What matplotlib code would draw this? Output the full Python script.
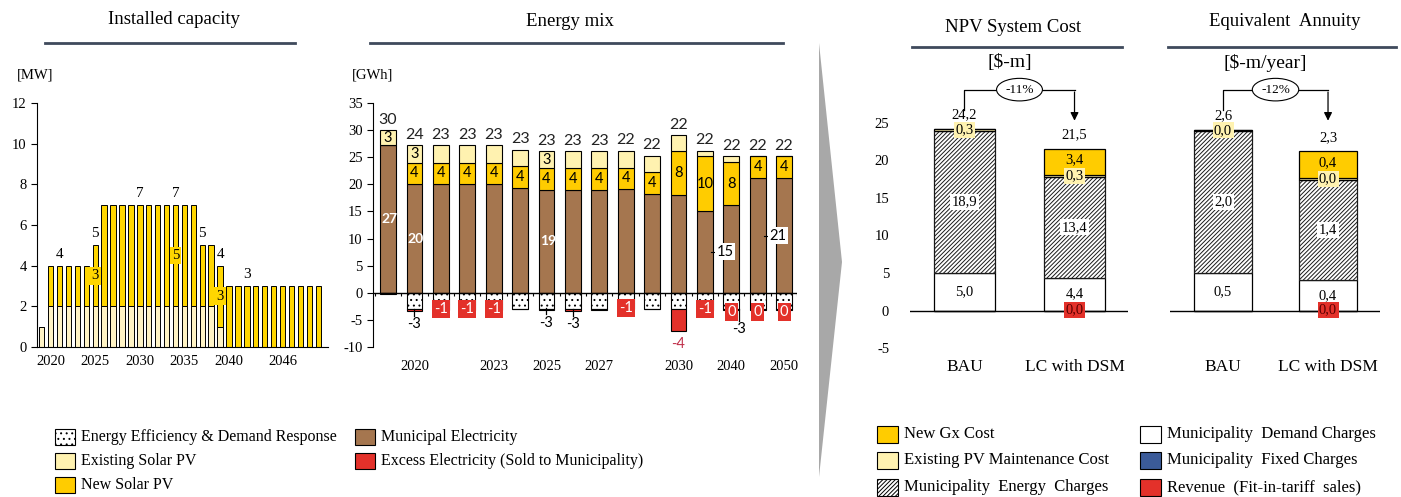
import numpy as np
import matplotlib
matplotlib.use('Agg')
import matplotlib.pyplot as plt
from matplotlib.patches import Rectangle, Polygon
from matplotlib.lines import Line2D

plt.rcParams['font.family'] = ['Liberation Serif', 'DejaVu Serif']
plt.rcParams['hatch.linewidth'] = 0.7
plt.rcParams['axes.unicode_minus'] = False

# ---------------- data: installed capacity [MW] ----------------
cap_years = list(range(2019, 2051))
cap_existing = [1] + [2] * 5 + [2] + [2] * 11 + [2, 2] + [1] + [0] * 11
cap_new = [0] + [2] * 5 + [3] + [5] * 11 + [3, 3] + [3] + [3] * 11
cap_tick_labels = ['2020', '2025', '2030', '2035', '2040', '2046']
cap_total_label_years = [2021, 2025, 2030, 2034, 2037, 2039, 2042]
cap_new_label_years = [2025, 2034, 2039]

# ---------------- data: energy mix [GWh] ----------------
mix_cats = ['2019', '2020', '2021', '2022', '2023', '2024', '2025', '2026',
            '2027', '2028', '2029', '2030', '2035', '2040', '2045', '2050']
mix_tick_labels = ['2020', '2023', '2025', '2027', '2030', '2040', '2050']
mix_municipal = [27.2, 20.0, 20.0, 20.0, 20.0, 19.3, 19.0, 19.0, 19.0, 19.1, 18.3, 18.1, 15.1, 16.1, 21.1, 21.1]
mix_new = [0.0, 4.0, 4.0, 4.0, 4.0, 4.0, 4.0, 4.0, 4.0, 4.0, 3.9, 8.0, 10.1, 8.1, 4.1, 4.1]
mix_existing = [2.8, 3.2, 3.2, 3.2, 3.2, 3.1, 3.1, 3.1, 3.1, 3.1, 3.1, 3.0, 1.0, 1.0, 0.0, 0.0]
mix_ee = [0.0, -2.9, -2.1, -2.1, -2.1, -2.9, -2.9, -3.0, -3.0, -1.9, -2.9, -3.0, -2.1, -3.0, -3.0, -3.0]
mix_excess = [-0.3, -0.4, -1.0, -1.0, -1.0, 0.0, -0.2, -0.3, -0.2, -1.0, 0.0, -4.1, -1.0, -0.2, -0.2, -0.2]
mix_total_labels = ['30', '24', '23', '23', '23', '23', '23', '23', '23', '22', '22', '22', '22', '22', '22', '22']
mix_new_labels = ['', '4', '4', '4', '4', '4', '4', '4', '4', '4', '4', '8', '10', '8', '4', '4']
mix_existing_labels = ['3', '3', '', '', '', '', '3', '', '', '', '', '', '', '', '', '']
mix_municipal_in_labels = ['27', '20', '', '', '', '', '19', '', '', '', '', '', '', '', '', '']
mix_municipal_out_labels = ['', '', '', '', '', '', '', '', '', '', '', '', '15', '', '21', '']
mix_ee_labels = ['', '-3', '', '', '', '', '-3', '-3', '', '', '', '', '', '-3', '', '']
mix_excess_labels = ['', '', '-1', '-1', '-1', '', '', '', '', '-1', '', '-4', '-1', '0', '0', '0']
mix_excess_boxed = [False, False, True, True, True, False, False, False, False, True, False, False, True, True, True, True]

# ---------------- data: costs ----------------
cost_cats = ['BAU', 'LC with DSM']
npv_demand = [5.0, 4.4]
npv_energy = [18.9, 13.4]
npv_pv = [0.3, 0.3]
npv_newgx = [0.0, 3.4]
npv_revenue = [0.0, -0.03]
npv_change = '-11%'

ann_demand = [0.54, 0.44]
ann_energy = [2.04, 1.44]
ann_pv = [0.02, 0.03]
ann_newgx = [0.0, 0.38]
ann_revenue = [0.0, -0.01]
ann_change = '-12%'

# ---------------- style ----------------
BROWN = '#A5764F'
LIGHT = '#FFF2B0'
GOLD = '#FFCC00'
RED = '#E3312A'
BLUE = '#3B5B99'
CAP_LIGHT = '#FFF3C4'
CAP_GOLD = '#FFD600'
LINEC = '#3F4A5C'
SANS = ['Lato', 'DejaVu Sans']

W, H = 1401, 497
fig = plt.figure(figsize=(W / 100, H / 100), dpi=100)


def fbox(x0, y0, x1, y1):
    return [x0 / W, 1 - y1 / H, (x1 - x0) / W, (y1 - y0) / H]


def fx(px):
    return px / W


def fy(py):
    return 1 - py / H


# ================= Installed capacity =================
ax = fig.add_axes(fbox(37, 103, 328, 347))
xc = np.arange(len(cap_years))
ax.bar(xc, cap_existing, 0.6, color=CAP_LIGHT, edgecolor='black', lw=0.7)
ax.bar(xc, cap_new, 0.6, bottom=cap_existing, color=CAP_GOLD, edgecolor='black', lw=0.7)
ax.set_xlim(-0.53, 32.1)
ax.set_ylim(0, 12)
ax.set_yticks(range(0, 13, 2))
ax.set_xticks([cap_years.index(int(t)) for t in cap_tick_labels])
ax.set_xticklabels(cap_tick_labels)
for s in ['top', 'right']:
    ax.spines[s].set_visible(False)
ax.tick_params(axis='x', length=0, pad=6, labelsize=10.5)
ax.tick_params(axis='y', length=4, labelsize=10.5, direction='out')
for yr in cap_total_label_years:
    i = cap_years.index(yr)
    tot = cap_existing[i] + cap_new[i]
    ax.text(i, tot + 0.25, str(tot), ha='center', va='bottom', fontsize=11)
for yr in cap_new_label_years:
    i = cap_years.index(yr)
    ax.text(i, cap_existing[i] + cap_new[i] / 2, str(cap_new[i]), ha='center', va='center',
            fontsize=10.5, bbox=dict(boxstyle='square,pad=0.15', fc=CAP_GOLD, ec='none'))
fig.text(fx(35), fy(75), '[MW]', ha='center', va='center', fontsize=10.5)

# ================= Energy mix =================
ax = fig.add_axes(fbox(373, 103, 797, 347))
xm = np.arange(len(mix_cats))
bw = 0.6
mun = np.array(mix_municipal)
new = np.array(mix_new)
ex = np.array(mix_existing)
ee = np.array(mix_ee)
exc = np.array(mix_excess)
ax.bar(xm, mun, bw, color=BROWN, edgecolor='black', lw=0.8)
ax.bar(xm, new, bw, bottom=mun, color=GOLD, edgecolor='black', lw=0.8)
ax.bar(xm, ex, bw, bottom=mun + new, color=LIGHT, edgecolor='black', lw=0.8)
ax.bar(xm, ee, bw, color='white', edgecolor='black', lw=0.8, hatch='...')
ax.bar(xm, exc, bw, bottom=ee, color=RED, edgecolor='black', lw=0.8)
ax.axhline(0, color='black', lw=1.0)
ax.vlines(np.arange(len(mix_cats) + 1) - 0.5, -0.6, 0, color='black', lw=0.8)
ax.set_xlim(-0.57, 15.49)
ax.set_ylim(-10, 35)
ax.set_yticks(range(-10, 36, 5))
ax.set_xticks([mix_cats.index(t) for t in mix_tick_labels])
ax.set_xticklabels(mix_tick_labels)
for s in ['top', 'right', 'bottom']:
    ax.spines[s].set_visible(False)
ax.tick_params(axis='x', length=0, pad=9, labelsize=10.5)
ax.tick_params(axis='y', length=4, labelsize=10.5, direction='out')
top = mun + new + ex
for i in range(len(mix_cats)):
    ax.text(i, top[i] + 0.6, mix_total_labels[i], ha='center', va='bottom', fontsize=11.5,
            family=SANS, color='#222222')
    if mix_new_labels[i]:
        ax.text(i, mun[i] + new[i] / 2, mix_new_labels[i], ha='center', va='center',
                fontsize=10.5, family=SANS)
    if mix_existing_labels[i]:
        ax.text(i, mun[i] + new[i] + ex[i] / 2, mix_existing_labels[i], ha='center', va='center',
                fontsize=10.5, family=SANS)
    if mix_municipal_in_labels[i]:
        ax.text(i + 0.05, mun[i] / 2, mix_municipal_in_labels[i], ha='center', va='center',
                fontsize=10, family=SANS, color='white', fontweight='bold')
    if mix_municipal_out_labels[i]:
        ax.plot([i + bw / 2 - 0.05, i + bw / 2 + 0.12], [mun[i] / 2] * 2, color='black', lw=0.8)
        ax.text(i + bw / 2 + 0.15, mun[i] / 2, mix_municipal_out_labels[i], ha='left', va='center',
                fontsize=10.5, family=SANS,
                bbox=dict(boxstyle='square,pad=0.1', fc='white', ec='none'))
    bottom = ee[i] + exc[i]
    if mix_excess_labels[i]:
        if mix_excess_boxed[i]:
            ax.text(i, ee[i] + exc[i] / 2 - 0.4, mix_excess_labels[i], ha='center', va='center',
                    fontsize=10.5, family=SANS, color='white',
                    bbox=dict(boxstyle='square,pad=0.15', fc=RED, ec='none'))
        else:
            ax.text(i, bottom - 1.0, mix_excess_labels[i], ha='center', va='top',
                    fontsize=10.5, family=SANS, color='#C0304A')
    if mix_ee_labels[i]:
        dx = 0.3 if mix_excess_boxed[i] else 0.0
        drop = 2.0 if mix_excess_boxed[i] else 0.9
        ax.plot([i + dx, i + dx], [bottom + 0.3, bottom - drop], color='black', lw=0.9)
        ax.text(i + dx, bottom - drop - 0.2, mix_ee_labels[i], ha='center', va='top',
                fontsize=10.5, family=SANS)
fig.text(fx(373), fy(75), '[GWh]', ha='center', va='center', fontsize=10.5)


# ================= Cost charts =================
def cost_chart(box, demand, energy, pv, newgx, revenue, change, k, show_y, xl):
    ax = fig.add_axes(fbox(*box))
    xb = np.arange(len(cost_cats))
    d = np.array(demand)
    e = np.array(energy)
    p = np.array(pv)
    g = np.array(newgx)
    r = np.array(revenue)
    bwc = 0.555
    ax.bar(xb, d, bwc, color='white', edgecolor='black', lw=0.9)
    ax.bar(xb, e, bwc, bottom=d, color='white', edgecolor='#1a1a1a', lw=0.9, hatch='////////')
    ax.bar(xb, p, bwc, bottom=d + e, color=LIGHT, edgecolor='black', lw=0.9)
    ax.bar(xb, g, bwc, bottom=d + e + p, color=GOLD, edgecolor='black', lw=0.9)
    ax.bar(xb, r, bwc, color=RED, edgecolor='black', lw=0.9)
    ax.axhline(0, color='black', lw=1.0)
    ax.set_ylim(-6 * k, 26 * k)
    ax.set_xlim(*xl)
    for s in ax.spines.values():
        s.set_visible(False)
    ax.set_xticks(xb)
    ax.set_xticklabels(cost_cats, fontsize=12.5)
    ax.tick_params(axis='x', length=0, pad=2)
    if show_y:
        ax.set_yticks(range(-5, 26, 5))
        ax.tick_params(axis='y', length=0, pad=15, labelsize=10.5)
    else:
        ax.set_yticks([])

    def fmt(v):
        return f'{abs(v):.1f}'.replace('.', ',')

    tot = d + e + p + g
    for i in range(len(cost_cats)):
        ax.text(i, tot[i] + 1.0 * k, fmt(tot[i]), ha='center', va='bottom', fontsize=10.5)
        ax.text(i, d[i] / 2, fmt(d[i]), ha='center', va='center', fontsize=10.5)
        ax.text(i, d[i] + e[i] / 2, fmt(e[i]), ha='center', va='center', fontsize=10.5,
                bbox=dict(boxstyle='square,pad=0.1', fc='white', ec='none'))
        ax.text(i, d[i] + e[i] + p[i] / 2, fmt(p[i]), ha='center', va='center', fontsize=10.5,
                bbox=dict(boxstyle='square,pad=0.1', fc=LIGHT, ec='none'))
        if g[i] > 0:
            ax.text(i, d[i] + e[i] + p[i] + g[i] / 2 + 0.3 * k, fmt(g[i]), ha='center', va='center',
                    fontsize=10.5)
        if r[i] < 0:
            ax.text(i, 0.1 * k, fmt(r[i]), ha='center', va='center', fontsize=10.5, color='#5a0000',
                    bbox=dict(boxstyle='square,pad=0.1', fc=RED, ec='none'))
    yh = 29.4 * k
    ax.plot([0, 0, 1], [26.7 * k, yh, yh], color='black', lw=0.9, clip_on=False)
    ax.annotate('', xy=(1, 24.9 * k), xytext=(1, yh + 0.05 * k),
                arrowprops=dict(arrowstyle='-|>', color='black', lw=0.9, mutation_scale=12),
                annotation_clip=False)
    ax.text(0.5, yh, change, ha='center', va='center', fontsize=9.5,
            bbox=dict(boxstyle='ellipse,pad=0.15', fc='white', ec='black', lw=0.8))
    return ax


cost_chart((910, 115.2, 1128, 355.8), npv_demand, npv_energy, npv_pv, npv_newgx, npv_revenue,
           npv_change, 1.0, True, (-0.495, 1.486))
cost_chart((1170, 115.2, 1380, 355.8), ann_demand, ann_energy, ann_pv, ann_newgx, ann_revenue,
           ann_change, 7.52 / 69.6, False, (-0.505, 1.495))

# ================= Titles and underlines =================
fig.text(fx(174), fy(20), 'Installed capacity', ha='center', va='center', fontsize=13.5)
fig.add_artist(Line2D([fx(45), fx(295)], [fy(43), fy(43)], color=LINEC, lw=2))
fig.text(fx(570), fy(22), 'Energy mix', ha='center', va='center', fontsize=13.5)
fig.add_artist(Line2D([fx(370), fx(783)], [fy(43), fy(43)], color=LINEC, lw=2))
fig.text(fx(1013), fy(28), 'NPV System Cost', ha='center', va='center', fontsize=13.5)
fig.add_artist(Line2D([fx(912), fx(1122)], [fy(47), fy(47)], color=LINEC, lw=2))
fig.text(fx(1010), fy(63), '[$-m]', ha='center', va='center', fontsize=14)
fig.text(fx(1285), fy(22), 'Equivalent  Annuity', ha='center', va='center', fontsize=13.5)
fig.add_artist(Line2D([fx(1168), fx(1396)], [fy(47), fy(47)], color=LINEC, lw=2))
fig.text(fx(1265), fy(63), '[$-m/year]', ha='center', va='center', fontsize=14)

# chevron
fig.add_artist(Polygon([[fx(819), fy(43)], [fx(842), fy(262)], [fx(819), fy(477)]],
                       closed=True, transform=fig.transFigure, fc='#A8A8A8', ec='none'))


# ================= Legends =================
def legend_item(px, py, label, fc, hatch=None, pw=20, ph=16, fs=11.5):
    fig.add_artist(Rectangle((fx(px), fy(py + ph / 2)), pw / W, ph / H, transform=fig.transFigure,
                             fc=fc, ec='black', lw=0.8, hatch=hatch))
    fig.text(fx(px + pw + 6), fy(py), label, ha='left', va='center', fontsize=fs)


legend_item(55, 437, 'Energy Efficiency & Demand Response', 'white', '...')
legend_item(55, 461, 'Existing Solar PV', LIGHT)
legend_item(55, 485, 'New Solar PV', GOLD)
legend_item(355, 437, 'Municipal Electricity', BROWN)
legend_item(355, 461, 'Excess Electricity (Sold to Municipality)', RED)

legend_item(877, 434, 'New Gx Cost', GOLD, pw=21, ph=17, fs=12)
legend_item(877, 460, 'Existing PV Maintenance Cost', LIGHT, pw=21, ph=17, fs=12)
legend_item(877, 487, 'Municipality  Energy  Charges', 'white', '////////', pw=21, ph=17, fs=12)
legend_item(1140, 434, 'Municipality  Demand Charges', 'white', pw=21, ph=17, fs=12)
legend_item(1140, 460, 'Municipality  Fixed Charges', BLUE, pw=21, ph=17, fs=12)
legend_item(1140, 487, 'Revenue  (Fit-in-tariff  sales)', RED, pw=21, ph=17, fs=12)

fig.savefig('out.png', dpi=100)
